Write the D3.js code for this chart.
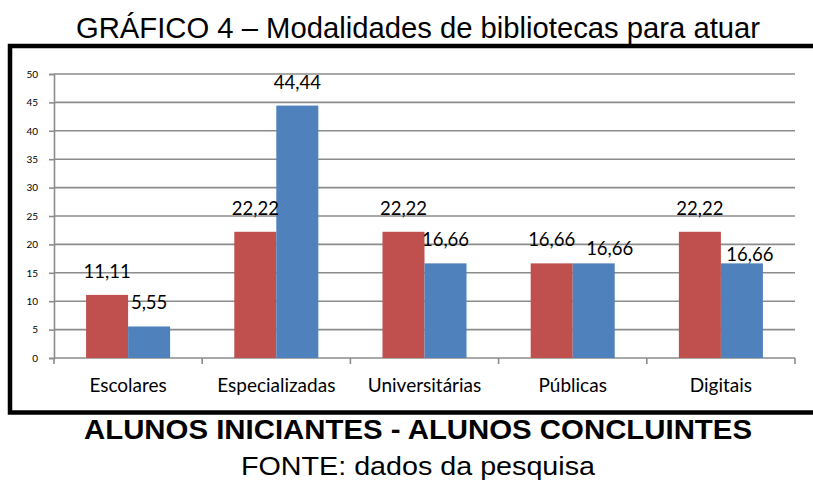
<!DOCTYPE html>
<html>
<head>
<meta charset="utf-8">
<script src="https://cdn.jsdelivr.net/npm/d3@7"></script>
<style>
  body { margin: 0; background: #fff; }
  svg { display: block; }
</style>
</head>
<body>
<script>
'use strict';

// chart values
const categories = ["Escolares", "Especializadas", "Universitárias", "Públicas", "Digitais"];
const series = ["Alunos iniciantes", "Alunos concluintes"];
const iniciantes = [11.11, 22.22, 22.22, 16.66, 22.22];
const concluintes = [5.55, 44.44, 16.66, 16.66, 16.66];
const yTicks = [0, 5, 10, 15, 20, 25, 30, 35, 40, 45, 50];

const colors = ["#c0504d", "#4f81bd"];

const m = {
  width: 813,
  height: 481,
  left: 54,
  right: 795,
  top: 74,
  bottom: 358
};

// Excel pushed a few blue labels aside so they don't collide (layout only)
const blueLabelNudge = {
  "Públicas": { dx: 16, dy: 9 },
  "Digitais": { dx: 8, dy: 15 }
};

const svg = d3.select('body')
  .append('svg')
  .attr('width', m.width)
  .attr('height', m.height);

// title
svg.append('text')
  .attr('x', 76)
  .attr('y', 38)
  .attr('textLength', 684)
  .attr('lengthAdjust', 'spacingAndGlyphs')
  .style('font-family', 'Liberation Sans, Arial, sans-serif')
  .style('font-size', '29px')
  .text('GRÁFICO 4 – Modalidades de bibliotecas para atuar');

// frame (right edge runs off the picture)
svg.append('rect')
  .attr('x', 10)
  .attr('y', 46)
  .attr('width', 820)
  .attr('height', 366.5)
  .attr('fill', 'none')
  .attr('stroke', '#000')
  .attr('stroke-width', 4.5);

// scales
const x = d3.scaleBand()
  .domain(categories)
  .range([m.left, m.right]);

const groupWidth = x.bandwidth() * 0.567;
const x1 = d3.scaleBand()
  .domain(series)
  .range([0, groupWidth]);

const y = d3.scaleLinear()
  .domain([0, 50])
  .range([m.bottom, m.top]);

// gridlines
svg.append('g')
  .selectAll('line')
  .data(yTicks.filter((d) => d > 0))
  .enter()
  .append('line')
  .attr('x1', m.left)
  .attr('x2', m.right)
  .attr('y1', (d) => y(d))
  .attr('y2', (d) => y(d))
  .attr('stroke', '#8c8c8c')
  .attr('stroke-width', 1.6);

// y axis
const yAxis = d3.axisLeft(y)
  .tickValues(yTicks)
  .tickSize(5)
  .tickPadding(11);
const gy = svg.append('g')
  .attr('transform', 'translate(' + m.left + ', 0)')
  .call(yAxis);
gy.select('.domain').attr('stroke', '#8c8c8c').attr('stroke-width', 1.6);
gy.selectAll('.tick line').attr('stroke', '#8c8c8c').attr('stroke-width', 1.6);
gy.selectAll('.tick text')
  .style('font-family', 'Lato, Calibri, sans-serif')
  .style('font-size', '10px')
  .attr('fill', '#000');

// x axis with ticks between categories
const gx = svg.append('g')
  .attr('transform', 'translate(0, ' + m.bottom + ')');
gx.append('line')
  .attr('x1', m.left)
  .attr('x2', m.right)
  .attr('stroke', '#8c8c8c')
  .attr('stroke-width', 1.6);
const bounds = categories.map((c) => x(c)).concat([m.right]);
gx.selectAll('.sep')
  .data(bounds)
  .enter()
  .append('line')
  .attr('class', 'sep')
  .attr('x1', (d) => d)
  .attr('x2', (d) => d)
  .attr('y1', 0)
  .attr('y2', 6)
  .attr('stroke', '#8c8c8c')
  .attr('stroke-width', 1.6);
gx.selectAll('.cat')
  .data(categories)
  .enter()
  .append('text')
  .attr('class', 'cat')
  .attr('x', (d) => x(d) + x.bandwidth() / 2)
  .attr('y', 34)
  .attr('text-anchor', 'middle')
  .style('font-family', 'Lato, Calibri, sans-serif')
  .style('font-size', '19px')
  .text((d) => d);

// bars
const rows = categories.map((c, i) => ({
  cat: c,
  values: [
    { s: series[0], v: iniciantes[i], cat: c },
    { s: series[1], v: concluintes[i], cat: c }
  ]
}));

const groups = svg.selectAll('.grp')
  .data(rows)
  .enter()
  .append('g')
  .attr('class', 'grp')
  .attr('transform', (d) => 'translate(' + (x(d.cat) + (x.bandwidth() - groupWidth) / 2) + ', 0)');

groups.selectAll('rect')
  .data((d) => d.values)
  .enter()
  .append('rect')
  .attr('x', (d) => x1(d.s))
  .attr('y', (d) => y(d.v))
  .attr('width', x1.bandwidth())
  .attr('height', (d) => y(0) - y(d.v))
  .attr('fill', (d, i) => colors[i]);

// value labels
function nudge(d) {
  if (d.s === series[1] && blueLabelNudge[d.cat]) return blueLabelNudge[d.cat];
  return { dx: 0, dy: 0 };
}

groups.selectAll('.lbl')
  .data((d) => d.values)
  .enter()
  .append('text')
  .attr('class', 'lbl')
  .attr('x', (d) => x1(d.s) + x1.bandwidth() / 2 + nudge(d).dx)
  .attr('y', (d) => y(d.v) - 17 + nudge(d).dy)
  .attr('text-anchor', 'middle')
  .style('font-family', 'Lato, Calibri, sans-serif')
  .style('font-size', '18.5px')
  .text((d) => d.v.toFixed(2).replace('.', ','));

// caption under the frame
svg.append('text')
  .attr('x', 84)
  .attr('y', 439)
  .attr('textLength', 668)
  .attr('lengthAdjust', 'spacingAndGlyphs')
  .style('font-family', 'Liberation Sans, Arial, sans-serif')
  .style('font-weight', 'bold')
  .style('font-size', '27px')
  .text('ALUNOS INICIANTES - ALUNOS CONCLUINTES');

svg.append('text')
  .attr('x', 241)
  .attr('y', 475)
  .attr('textLength', 354)
  .attr('lengthAdjust', 'spacingAndGlyphs')
  .style('font-family', 'Liberation Sans, Arial, sans-serif')
  .style('font-size', '26px')
  .text('FONTE: dados da pesquisa');
</script>
</body>
</html>
